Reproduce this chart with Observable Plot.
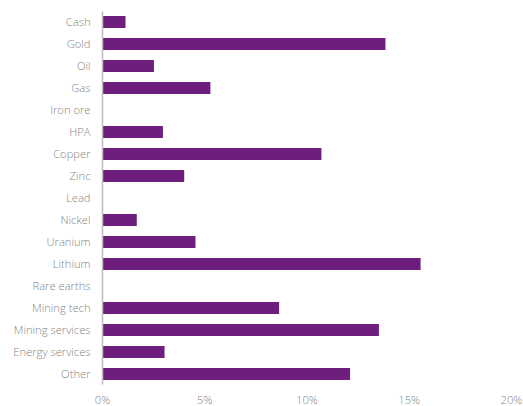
<!DOCTYPE html>
<html>
<head>
<meta charset="utf-8">
<script src="https://cdn.jsdelivr.net/npm/d3@7"></script>
<script src="https://cdn.jsdelivr.net/npm/@observablehq/plot@0.6"></script>
<style>
  html, body { margin: 0; padding: 0; background: #fff; }
  #chart svg { display: block; }
</style>
</head>
<body>
<div id="chart"></div>
<script>
const categories = ["Cash","Gold","Oil","Gas","Iron ore","HPA","Copper","Zinc","Lead","Nickel","Uranium","Lithium","Rare earths","Mining tech","Mining services","Energy services","Other"];
const values = [1.15, 13.86, 2.54, 5.30, 0, 2.98, 10.73, 4.02, 0, 1.70, 4.57, 15.58, 0, 8.66, 13.54, 3.06, 12.13];
const xTicks = [0, 5, 10, 15, 20];

const data = categories.map((c, i) => ({category: c, value: values[i]}));

const chart = Plot.plot({
  width: 523,
  height: 406,
  marginLeft: 102,
  marginRight: 12,
  marginTop: 11.5,
  marginBottom: 21.6,
  style: {fontFamily: "'Open Sans', sans-serif", fontSize: "11.2px", fontWeight: 300, color: "#858585", background: "#fff"},
  x: {domain: [0, 20], ticks: xTicks, tickFormat: d => d + "%", tickSize: 0, tickPadding: 11.5, label: null},
  y: {domain: categories, paddingInner: 0.45, paddingOuter: 0.2, tickSize: 0, tickPadding: 12, label: null},
  marks: [
    Plot.barX(data, {x: "value", y: "category", fill: "#6e1f7e"}),
    Plot.ruleX([0], {stroke: "#bdbdbd", strokeWidth: 1.5})
  ]
});
document.getElementById("chart").appendChild(chart);
</script>
</body>
</html>
